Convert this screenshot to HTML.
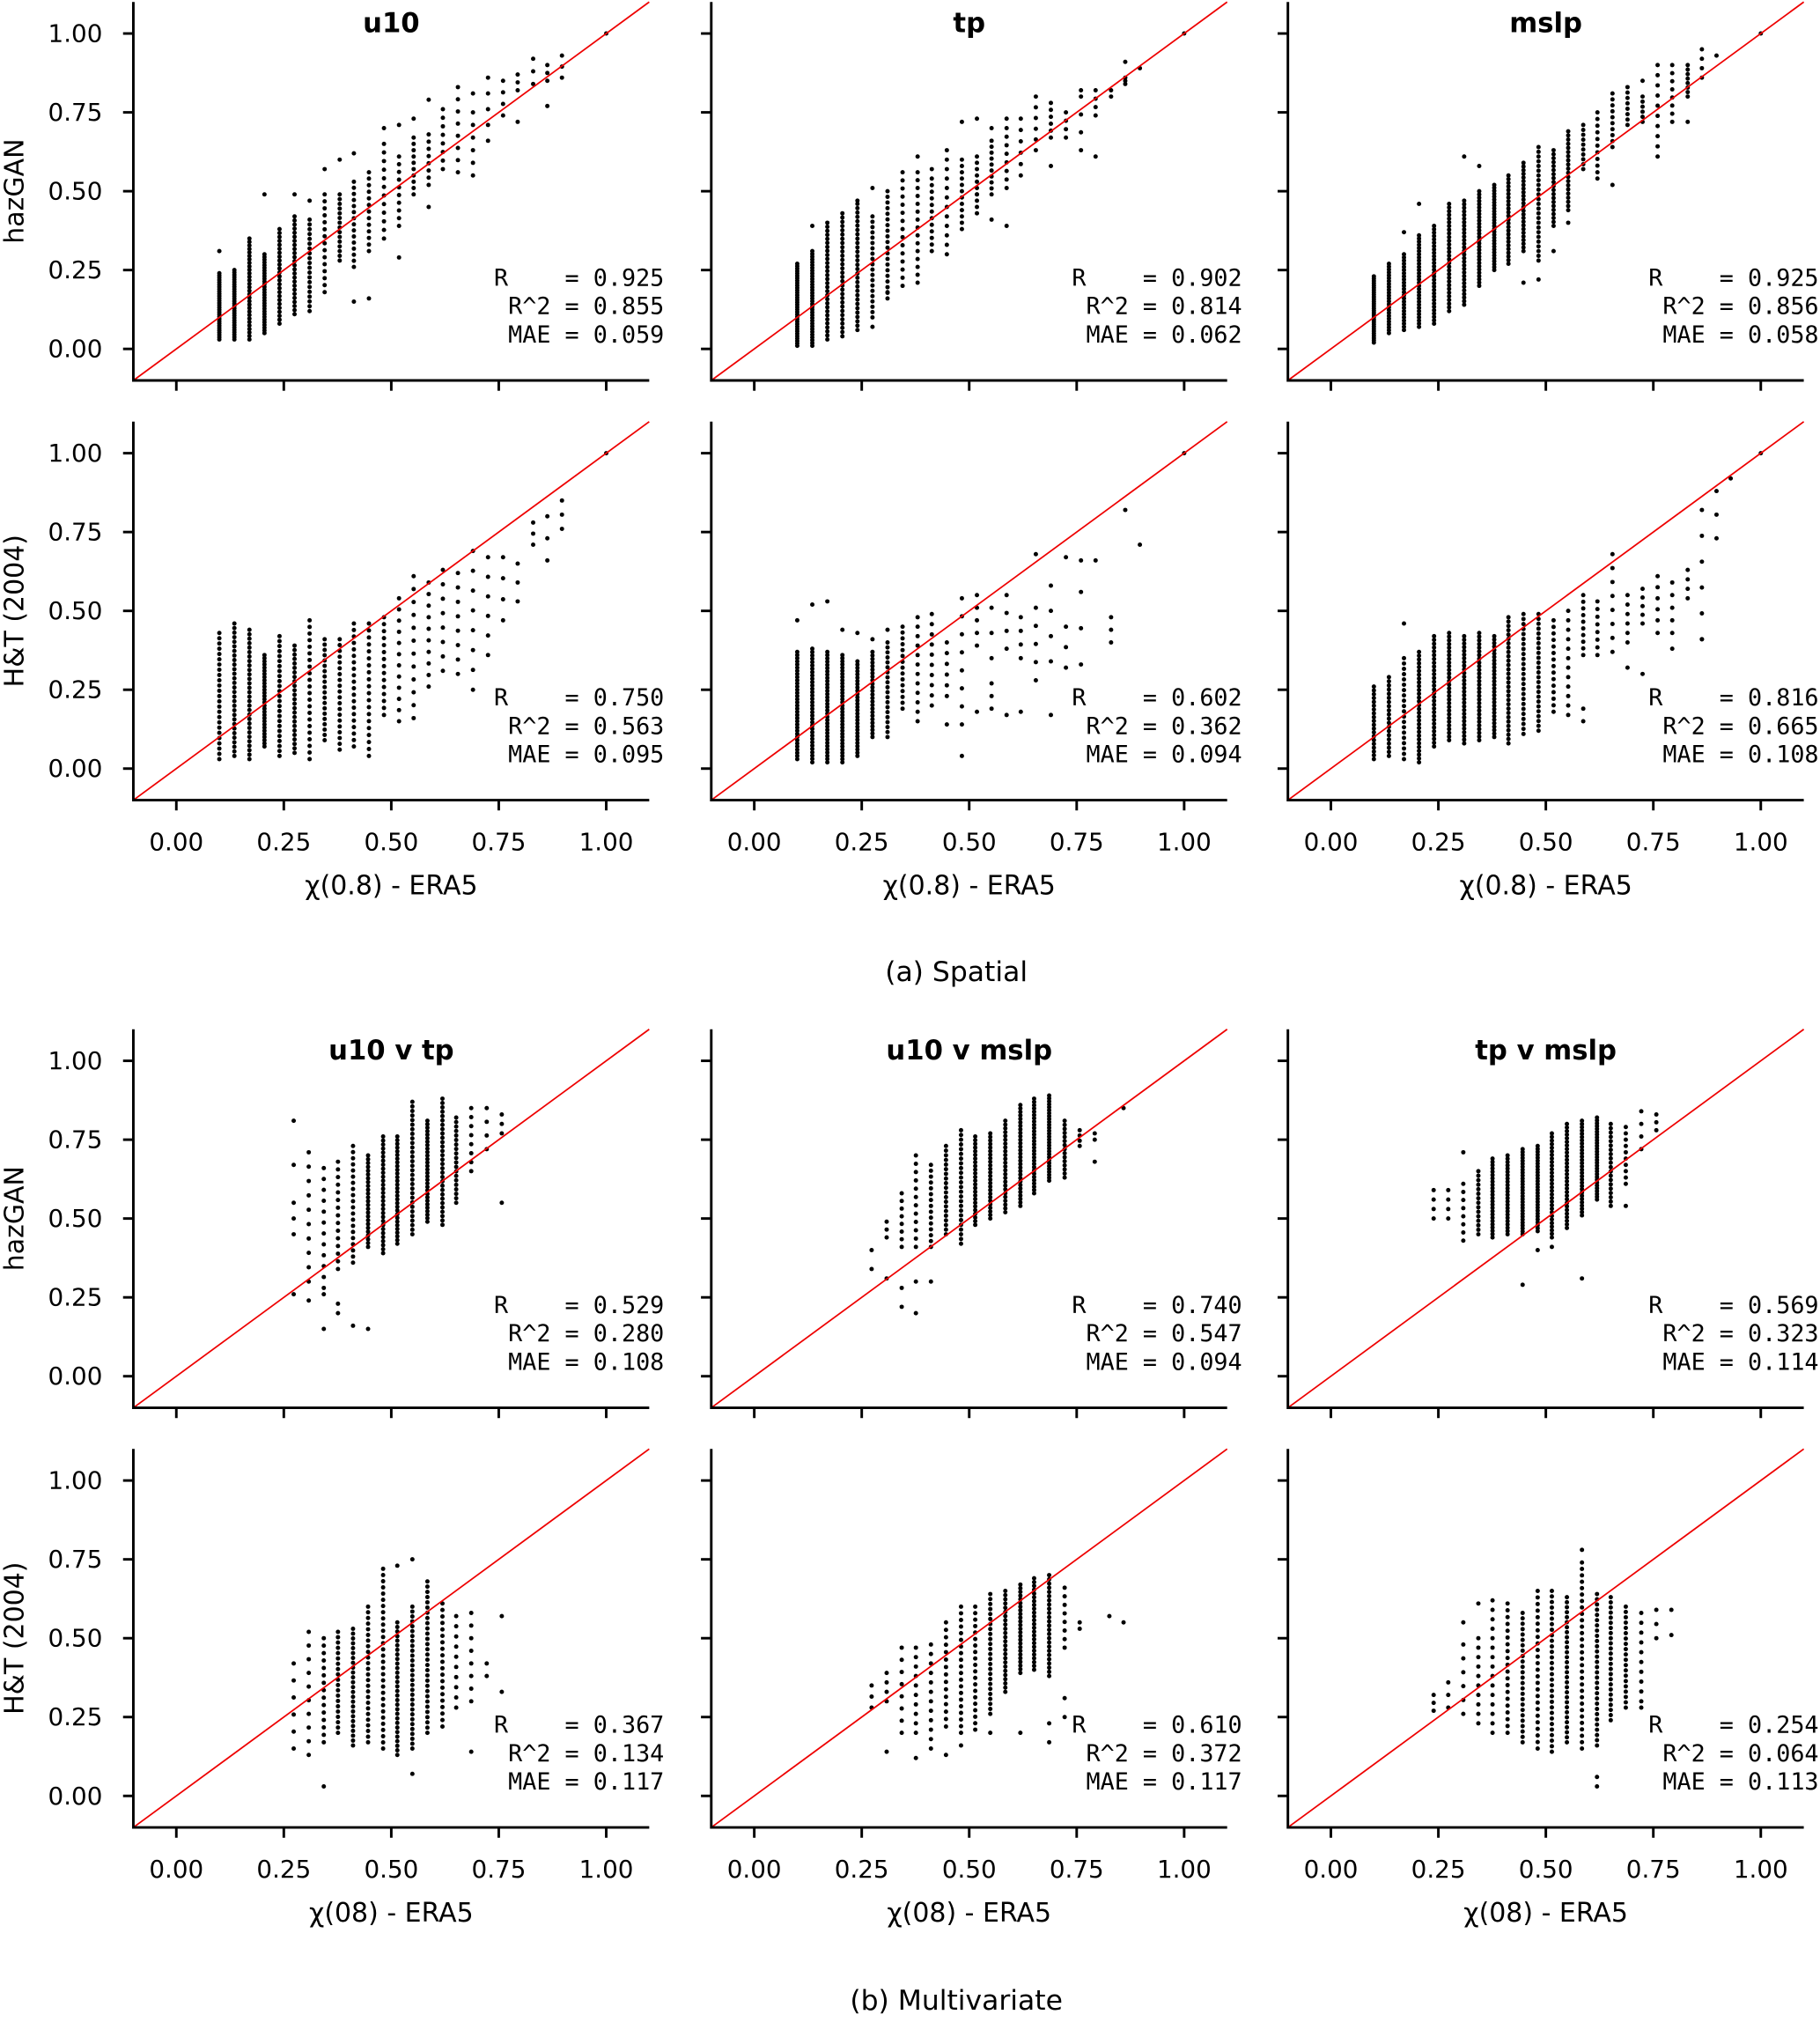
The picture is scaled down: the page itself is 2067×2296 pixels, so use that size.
<!DOCTYPE html>
<html><head><meta charset="utf-8">
<style>
html,body{margin:0;padding:0;background:#fff;}
svg{display:block;}
text{font-family:"DejaVu Sans","Liberation Sans",sans-serif;fill:#000;}
.mono{font-family:"DejaVu Sans Mono","Liberation Mono",monospace;white-space:pre;}
</style></head>
<body>
<svg id="fig" width="2067" height="2296" viewBox="0 0 1414 1570.6" xmlns="http://www.w3.org/2000/svg"></svg>
<script>
// ---- data ----
const gridSpatial = [0.1,0.135,0.17,0.205,0.24,0.275,0.31,0.345,0.38,0.413,0.448,0.483,0.518,0.552,0.587,0.62,0.655,0.69,0.725,0.76,0.794,0.83,0.863,0.897,1.0];
const gridMulti = [0.239,0.273,0.308,0.343,0.376,0.411,0.446,0.481,0.514,0.549,0.584,0.619,0.651,0.686,0.722,0.757,0.792,0.826,0.859];
const yTicks = [0,0.25,0.5,0.75,1.0];
const yTickLabels = ["0.00","0.25","0.50","0.75","1.00"];
const xTicks = [0,0.25,0.5,0.75,1.0];
const xTickLabels = ["0.00","0.25","0.50","0.75","1.00"];
const panelTitles = ["u10","tp","mslp","u10 v tp","u10 v mslp","tp v mslp"];

const u10HzLo = [0.03,0.03,0.03,0.05,0.08,0.11,0.12,0.18,0.28,0.26,0.31,0.35,0.39,0.49,0.52,0.57,0.56,0.55,0.66,0.74,0.82,0.84,0.85,0.86,1.0];
const u10HzHi = [0.24,0.25,0.35,0.30,0.38,0.42,0.41,0.49,0.49,0.53,0.54,0.65,0.61,0.67,0.68,0.76,0.83,0.75,0.86,0.85,0.87,0.92,0.90,0.93,1.0];
const u10HzN = [30,30,30,30,25,25,20,15,15,15,12,12,10,10,8,8,8,6,5,4,3,3,3,3,1];
const u10HzExX = [0.1,0.205,0.275,0.31,0.345,0.38,0.413,0.413,0.448,0.448,0.483,0.518,0.518,0.552,0.587,0.587,0.69,0.794,0.863];
const u10HzExY = [0.31,0.49,0.49,0.47,0.57,0.60,0.62,0.15,0.56,0.16,0.70,0.71,0.29,0.73,0.45,0.79,0.81,0.72,0.77];
const u10HzStats = ["0.925","0.855","0.059"];

const u10HtLo = [0.03,0.04,0.03,0.07,0.04,0.05,0.03,0.09,0.06,0.07,0.04,0.17,0.15,0.16,0.26,0.31,0.30,0.25,0.36,0.47,0.53,0.71,0.66,0.76,1.0];
const u10HtHi = [0.43,0.46,0.44,0.36,0.42,0.39,0.47,0.41,0.41,0.46,0.46,0.48,0.54,0.61,0.59,0.63,0.62,0.69,0.67,0.67,0.65,0.78,0.80,0.85,1.0];
const u10HtN = [25,30,30,30,25,25,22,20,20,20,20,15,12,12,10,8,8,8,6,4,3,3,3,3,1];
const u10HtExX = [];
const u10HtExY = [];
const u10HtStats = ["0.750","0.563","0.095"];

const tpHzLo = [0.01,0.01,0.03,0.04,0.06,0.10,0.16,0.20,0.21,0.31,0.30,0.38,0.43,0.49,0.51,0.55,0.63,0.67,0.67,0.63,0.74,0.80,0.84,0.89,1.0];
const tpHzHi = [0.27,0.31,0.40,0.43,0.46,0.42,0.50,0.56,0.56,0.54,0.63,0.60,0.61,0.66,0.70,0.73,0.80,0.78,0.75,0.80,0.82,0.82,0.86,0.89,1.0];
const tpHzN = [35,35,30,30,30,20,20,15,15,12,12,12,10,10,8,6,6,6,4,4,4,2,3,1,1];
const tpHzExX = [0.135,0.24,0.275,0.275,0.31,0.38,0.413,0.483,0.518,0.518,0.552,0.552,0.587,0.587,0.69,0.76,0.794,0.863];
const tpHzExY = [0.39,0.47,0.07,0.51,0.18,0.61,0.57,0.72,0.49,0.73,0.41,0.70,0.39,0.73,0.58,0.82,0.61,0.91];
const tpHzStats = ["0.902","0.814","0.062"];

const tpHtLo = [0.03,0.02,0.02,0.02,0.04,0.10,0.10,0.19,0.15,0.20,0.23,0.14,0.39,0.19,0.38,0.35,0.28,0.34,0.32,0.33,0.66,0.40,0.82,0.71,1.0];
const tpHtHi = [0.37,0.38,0.37,0.36,0.34,0.37,0.40,0.45,0.48,0.49,0.40,0.54,0.55,0.51,0.55,0.48,0.51,0.58,0.45,0.56,0.66,0.48,0.82,0.71,1.0];
const tpHtN = [35,35,35,35,30,25,20,15,12,10,6,8,5,5,4,4,5,4,3,3,1,3,1,1,1];
const tpHtExX = [0.10,0.135,0.17,0.205,0.24,0.275,0.31,0.448,0.483,0.518,0.552,0.587,0.62,0.655,0.69,0.725,0.76];
const tpHtExY = [0.47,0.52,0.53,0.44,0.43,0.41,0.44,0.14,0.04,0.18,0.23,0.17,0.18,0.68,0.17,0.67,0.66];
const tpHtStats = ["0.602","0.362","0.094"];

const mslpHzLo = [0.02,0.05,0.06,0.07,0.08,0.12,0.14,0.20,0.25,0.27,0.31,0.28,0.39,0.44,0.57,0.56,0.64,0.71,0.72,0.61,0.72,0.80,0.86,0.93,1.0];
const mslpHzHi = [0.23,0.27,0.30,0.36,0.39,0.46,0.47,0.50,0.52,0.55,0.59,0.64,0.63,0.69,0.71,0.75,0.81,0.83,0.80,0.90,0.90,0.90,0.95,0.93,1.0];
const mslpHzN = [30,25,25,30,30,30,30,30,30,25,25,25,20,20,10,10,10,8,6,10,8,8,4,1,1];
const mslpHzExX = [0.17,0.205,0.31,0.345,0.448,0.483,0.518,0.552,0.62,0.655,0.725,0.83];
const mslpHzExY = [0.37,0.46,0.61,0.58,0.21,0.22,0.31,0.40,0.54,0.52,0.85,0.72];
const mslpHzStats = ["0.925","0.856","0.058"];

const mslpHtLo = [0.03,0.04,0.03,0.02,0.07,0.09,0.08,0.09,0.10,0.08,0.11,0.12,0.18,0.17,0.36,0.36,0.37,0.40,0.46,0.47,0.43,0.54,0.41,0.73,1.0];
const mslpHtHi = [0.26,0.29,0.35,0.37,0.42,0.43,0.42,0.43,0.42,0.48,0.49,0.49,0.47,0.50,0.55,0.53,0.68,0.55,0.57,0.61,0.59,0.63,0.82,0.88,1.0];
const mslpHtN = [20,20,20,30,30,30,30,30,30,30,25,25,15,12,10,8,8,6,5,5,5,4,6,3,1];
const mslpHtExX = [0.17,0.587,0.587,0.69,0.725,0.76,0.794,0.863,0.93];
const mslpHtExY = [0.46,0.15,0.19,0.32,0.30,0.43,0.38,0.41,0.92];
const mslpHtStats = ["0.816","0.665","0.108"];

const u10tpHzLo = [null,0.45,0.30,0.28,0.34,0.36,0.41,0.39,0.42,0.45,0.49,0.48,0.55,0.65,0.72,0.77,null,null,null];
const u10tpHzHi = [null,0.55,0.71,0.66,0.68,0.73,0.70,0.76,0.76,0.87,0.81,0.88,0.82,0.85,0.85,0.83,null,null,null];
const u10tpHzN = [0,3,10,12,15,20,25,30,30,30,30,30,20,8,4,3,0,0,0];
const u10tpHzExX = [0.273,0.273,0.273,0.308,0.343,0.343,0.376,0.376,0.411,0.446,0.757];
const u10tpHzExY = [0.81,0.67,0.26,0.24,0.26,0.15,0.23,0.20,0.16,0.15,0.55];
const u10tpHzStats = ["0.529","0.280","0.108"];

const u10mslpHzLo = [null,0.34,0.44,0.41,0.41,0.41,0.45,0.42,0.48,0.50,0.52,0.54,0.58,0.62,0.63,0.73,0.75,null,0.85];
const u10mslpHzHi = [null,0.40,0.49,0.58,0.70,0.67,0.73,0.78,0.76,0.77,0.81,0.86,0.88,0.89,0.81,0.78,0.77,null,0.85];
const u10mslpHzN = [0,2,3,8,12,15,20,25,25,25,25,30,30,30,15,4,2,0,1];
const u10mslpHzExX = [0.308,0.343,0.343,0.376,0.376,0.411,0.792];
const u10mslpHzExY = [0.31,0.22,0.28,0.20,0.30,0.30,0.68];
const u10mslpHzStats = ["0.740","0.547","0.094"];

const tpmslpHzLo = [0.50,0.50,0.43,0.45,0.44,0.45,0.45,0.46,0.44,0.47,0.51,0.56,0.54,0.61,0.72,0.78,null,null,null];
const tpmslpHzHi = [0.59,0.59,0.61,0.65,0.69,0.70,0.72,0.73,0.77,0.80,0.81,0.82,0.80,0.79,0.84,0.83,null,null,null];
const tpmslpHzN = [4,4,8,15,25,25,30,30,30,30,30,30,20,10,4,3,0,0,0];
const tpmslpHzExX = [0.308,0.446,0.481,0.514,0.584,0.686];
const tpmslpHzExY = [0.71,0.29,0.40,0.41,0.31,0.54];
const tpmslpHzStats = ["0.569","0.323","0.114"];

const u10tpHtLo = [null,0.15,0.13,0.17,0.20,0.16,0.17,0.15,0.13,0.15,0.20,0.22,0.28,0.30,0.38,0.33,null,null,null];
const u10tpHtHi = [null,0.42,0.52,0.50,0.52,0.53,0.60,0.72,0.55,0.60,0.68,0.61,0.57,0.58,0.42,0.57,null,null,null];
const u10tpHtN = [0,6,10,15,20,25,25,30,30,30,30,20,10,8,2,2,0,0,0];
const u10tpHtExX = [0.343,0.514,0.549,0.549,0.686];
const u10tpHtExY = [0.03,0.73,0.75,0.07,0.14];
const u10tpHtStats = ["0.367","0.134","0.117"];

const u10mslpHtLo = [null,0.28,0.30,0.20,0.20,0.15,0.22,0.20,0.21,0.26,0.33,0.39,0.40,0.38,0.47,0.53,null,0.57,0.55];
const u10mslpHtHi = [null,0.35,0.39,0.47,0.47,0.48,0.55,0.60,0.60,0.64,0.65,0.67,0.69,0.70,0.66,0.55,null,0.57,0.55];
const u10mslpHtN = [0,3,4,8,10,12,15,20,20,25,25,25,25,25,8,2,0,1,1];
const u10mslpHtExX = [0.308,0.376,0.446,0.481,0.549,0.619,0.686,0.686,0.722,0.722];
const u10mslpHtExY = [0.14,0.12,0.13,0.16,0.20,0.20,0.23,0.17,0.31,0.25];
const u10mslpHtStats = ["0.610","0.372","0.117"];

const tpmslpHtLo = [0.27,0.28,0.26,0.23,0.20,0.20,0.17,0.15,0.14,0.17,0.15,0.16,0.24,0.28,0.30,0.50,0.51,null,null];
const tpmslpHtHi = [0.32,0.36,0.48,0.50,0.62,0.61,0.58,0.65,0.65,0.63,0.74,0.64,0.63,0.60,0.58,0.59,0.59,null,null];
const tpmslpHtN = [3,3,6,10,15,20,25,25,30,30,30,30,25,20,10,3,2,0,0];
const tpmslpHtExX = [0.308,0.343,0.584,0.619,0.619,0.722];
const tpmslpHtExY = [0.55,0.61,0.78,0.03,0.06,0.28];
const tpmslpHtStats = ["0.254","0.064","0.113"];

// ---- layout ----
const NS = "http://www.w3.org/2000/svg";
const svg = document.getElementById("fig");
const colX0 = [137,586,1034];
const rowY0 = [271,597,1069,1395];
const SX = 334, SY = 245;

function el(tag, attrs, parent) {
  const e = document.createElementNS(NS, tag);
  for (const k in attrs) e.setAttribute(k, attrs[k]);
  (parent || svg).appendChild(e);
  return e;
}

const panels = [
  {r:0,c:0,grid:gridSpatial,lo:u10HzLo,hi:u10HzHi,n:u10HzN,ex:u10HzExX,ey:u10HzExY,st:u10HzStats,name:"u10-hazgan"},
  {r:0,c:1,grid:gridSpatial,lo:tpHzLo,hi:tpHzHi,n:tpHzN,ex:tpHzExX,ey:tpHzExY,st:tpHzStats,name:"tp-hazgan"},
  {r:0,c:2,grid:gridSpatial,lo:mslpHzLo,hi:mslpHzHi,n:mslpHzN,ex:mslpHzExX,ey:mslpHzExY,st:mslpHzStats,name:"mslp-hazgan"},
  {r:1,c:0,grid:gridSpatial,lo:u10HtLo,hi:u10HtHi,n:u10HtN,ex:u10HtExX,ey:u10HtExY,st:u10HtStats,name:"u10-ht"},
  {r:1,c:1,grid:gridSpatial,lo:tpHtLo,hi:tpHtHi,n:tpHtN,ex:tpHtExX,ey:tpHtExY,st:tpHtStats,name:"tp-ht"},
  {r:1,c:2,grid:gridSpatial,lo:mslpHtLo,hi:mslpHtHi,n:mslpHtN,ex:mslpHtExX,ey:mslpHtExY,st:mslpHtStats,name:"mslp-ht"},
  {r:2,c:0,grid:gridMulti,lo:u10tpHzLo,hi:u10tpHzHi,n:u10tpHzN,ex:u10tpHzExX,ey:u10tpHzExY,st:u10tpHzStats,name:"u10-v-tp-hazgan"},
  {r:2,c:1,grid:gridMulti,lo:u10mslpHzLo,hi:u10mslpHzHi,n:u10mslpHzN,ex:u10mslpHzExX,ey:u10mslpHzExY,st:u10mslpHzStats,name:"u10-v-mslp-hazgan"},
  {r:2,c:2,grid:gridMulti,lo:tpmslpHzLo,hi:tpmslpHzHi,n:tpmslpHzN,ex:tpmslpHzExX,ey:tpmslpHzExY,st:tpmslpHzStats,name:"tp-v-mslp-hazgan"},
  {r:3,c:0,grid:gridMulti,lo:u10tpHtLo,hi:u10tpHtHi,n:u10tpHtN,ex:u10tpHtExX,ey:u10tpHtExY,st:u10tpHtStats,name:"u10-v-tp-ht"},
  {r:3,c:1,grid:gridMulti,lo:u10mslpHtLo,hi:u10mslpHtHi,n:u10mslpHtN,ex:u10mslpHtExX,ey:u10mslpHtExY,st:u10mslpHtStats,name:"u10-v-mslp-ht"},
  {r:3,c:2,grid:gridMulti,lo:tpmslpHtLo,hi:tpmslpHtHi,n:tpmslpHtN,ex:tpmslpHtExX,ey:tpmslpHtExY,st:tpmslpHtStats,name:"tp-v-mslp-ht"}
];

panels.forEach(function(p){
  const x0 = colX0[p.c], y0 = rowY0[p.r];
  const xs = v => x0 + v*SX;
  const ys = v => y0 - v*SY;
  const g = el("g", {});
  
  
  const pts = el("g", {fill:"#000"}, g);
  
  
  p.grid.forEach(function(gx, i){
    const lo = p.lo[i], hi = p.hi[i], n = p.n[i];
    if (lo === null || !n) return;
    for (let k = 0; k < n; k++) {
      const v = n === 1 ? lo : lo + (hi - lo) * k / (n - 1);
      const d = el("circle", {cx:xs(gx).toFixed(2), cy:ys(v).toFixed(2), r:1.7}, pts);
      
      
    }
  });
  p.ex.forEach(function(vx, i){
    const d = el("circle", {cx:xs(vx).toFixed(2), cy:ys(p.ey[i]).toFixed(2), r:1.7}, pts);
    
    
  });
  const ln = el("line", {x1:xs(-0.1), y1:ys(-0.1), x2:xs(1.1), y2:ys(1.1), stroke:"#e00", "stroke-width":1.2}, g);
  
  
  const sp = el("path", {d:"M"+xs(-0.1)+","+ys(1.1)+"V"+ys(-0.1)+"H"+xs(1.1), fill:"none", stroke:"#000", "stroke-width":2}, g);
  
  
  yTicks.forEach(function(t, i){
    const tk = el("line", {x1:xs(-0.1), x2:xs(-0.1)-8, y1:ys(t), y2:ys(t), stroke:"#000", "stroke-width":2}, g);
    
    
    if (p.c === 0) {
      const tl = el("text", {x:xs(-0.1)-24, y:ys(t)+6.5, "text-anchor":"end", "font-size":19}, g);
      tl.textContent = yTickLabels[i];
      
      
    }
  });
  xTicks.forEach(function(t, i){
    const tk = el("line", {x1:xs(t), x2:xs(t), y1:ys(-0.1), y2:ys(-0.1)+8, stroke:"#000", "stroke-width":2}, g);
    
    
    if (p.r === 1 || p.r === 3) {
      const tl = el("text", {x:xs(t), y:ys(-0.1)+39, "text-anchor":"middle", "font-size":19}, g);
      tl.textContent = xTickLabels[i];
      
      
    }
  });
  ["R   ","R^2","MAE"].forEach(function(l, i){
    const t = el("text", {x:x0+379, y:y0-49+i*22, "text-anchor":"end", "font-size":18.3, class:"mono"}, g);
    t.textContent = l + " = " + p.st[i];
    
    
  });
  if (p.r === 0 || p.r === 2) {
    const t = el("text", {x:x0+167, y:y0-246, "text-anchor":"middle", "font-size":21, "font-weight":"bold"}, g);
    t.textContent = panelTitles[p.r === 0 ? p.c : 3 + p.c];
    
    
  }
  if (p.r === 1 || p.r === 3) {
    const t = el("text", {x:x0+167, y:ys(-0.1)+73, "text-anchor":"middle", "font-size":20.5}, g);
    t.textContent = p.r === 1 ? "χ(0.8) - ERA5" : "χ(08) - ERA5";
    
    
  }
  if (p.c === 0) {
    const cy = y0 - 0.5*SY;
    const t = el("text", {x:0, y:0, "text-anchor":"middle", "font-size":20.5, transform:"translate(18,"+cy+") rotate(-90)"}, g);
    t.textContent = (p.r % 2 === 0) ? "hazGAN" : "H&T (2004)";
    
    
  }
});

const capA = el("text", {x:743, y:762, "text-anchor":"middle", "font-size":21.5});
capA.textContent = "(a) Spatial";


const capB = el("text", {x:743, y:1561, "text-anchor":"middle", "font-size":21.5});
capB.textContent = "(b) Multivariate";


</script>
</body></html>
